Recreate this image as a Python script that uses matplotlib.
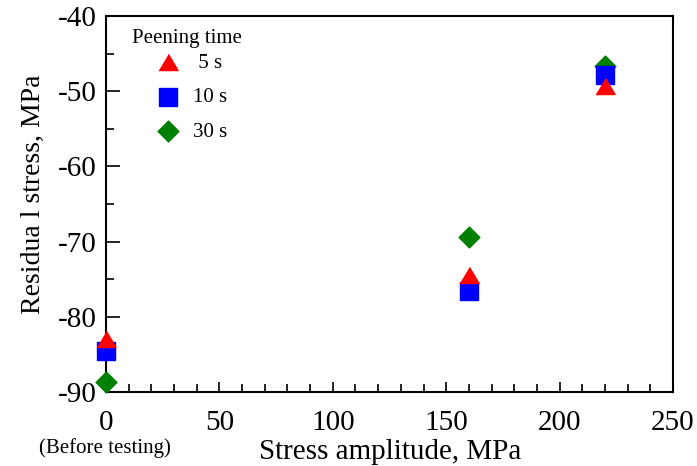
import matplotlib.pyplot as plt
from matplotlib.ticker import MultipleLocator

plt.rcParams['font.family'] = ['Liberation Serif', 'DejaVu Serif']
plt.rcParams['axes.unicode_minus'] = False

# data
amp = [0, 160, 220]
stress_5s = [-83.0, -74.4, -49.3]
stress_10s = [-84.6, -76.6, -47.8]
stress_30s = [-88.7, -69.4, -46.6]

W, H = 697, 466
fig = plt.figure(figsize=(W / 100, H / 100), dpi=100)
ax = fig.add_axes([106 / W, 1 - 392 / H, 567 / W, 376 / H])

tri = [(-1, -0.84), (1, -0.84), (0, 0.84)]
ax.scatter(amp, stress_30s, marker='D', s=112, color='green', label='30 s',
           zorder=3, clip_on=False)
ax.scatter(amp, stress_10s, marker='s', s=185, color='blue', label='10 s',
           zorder=4, clip_on=False)
ax.scatter(amp, stress_5s, marker=tri, s=190, color='red', label=' 5 s',
           zorder=5, clip_on=False)

ax.set_xlim(0, 250)
ax.set_ylim(-90, -40)
ax.xaxis.set_major_locator(MultipleLocator(50))
ax.xaxis.set_minor_locator(MultipleLocator(10))
ax.yaxis.set_major_locator(MultipleLocator(10))
ax.yaxis.set_minor_locator(MultipleLocator(5))
ax.tick_params(axis='both', which='both', direction='in', top=False, right=False,
               width=1.2, labelsize=21)
ax.tick_params(axis='y', which='major', length=10, pad=7)
ax.tick_params(axis='y', which='minor', length=6)
ax.tick_params(axis='x', which='major', length=7, pad=13)
ax.tick_params(axis='x', which='minor', length=6)
for sp in ax.spines.values():
    sp.set_linewidth(1.5)

ax.set_xlabel('Stress amplitude, MPa', fontsize=21)
ax.xaxis.set_label_coords(0.501, -0.124)
ax.set_ylabel('Residua l stress, MPa', fontsize=20)
ax.yaxis.set_label_coords(-0.106, 0.526)
fig.text(105 / W, 1 - 448 / H, '(Before testing)', fontsize=15,
         ha='center', va='center')

# legend: title as separate text, entries below it
fig.text(132 / W, 1 - 38 / H, 'Peening time', fontsize=15, ha='left', va='center')
h, l = ax.get_legend_handles_labels()
ax.legend(h[::-1], l[::-1], loc='upper left', bbox_to_anchor=(155.5 / W, 1 - 53 / H),
          bbox_transform=fig.transFigure, frameon=False, fontsize=15,
          handlelength=1.2, handletextpad=0.6, labelspacing=0.72,
          borderpad=0, borderaxespad=0)

fig.savefig('out.png', dpi=100)
